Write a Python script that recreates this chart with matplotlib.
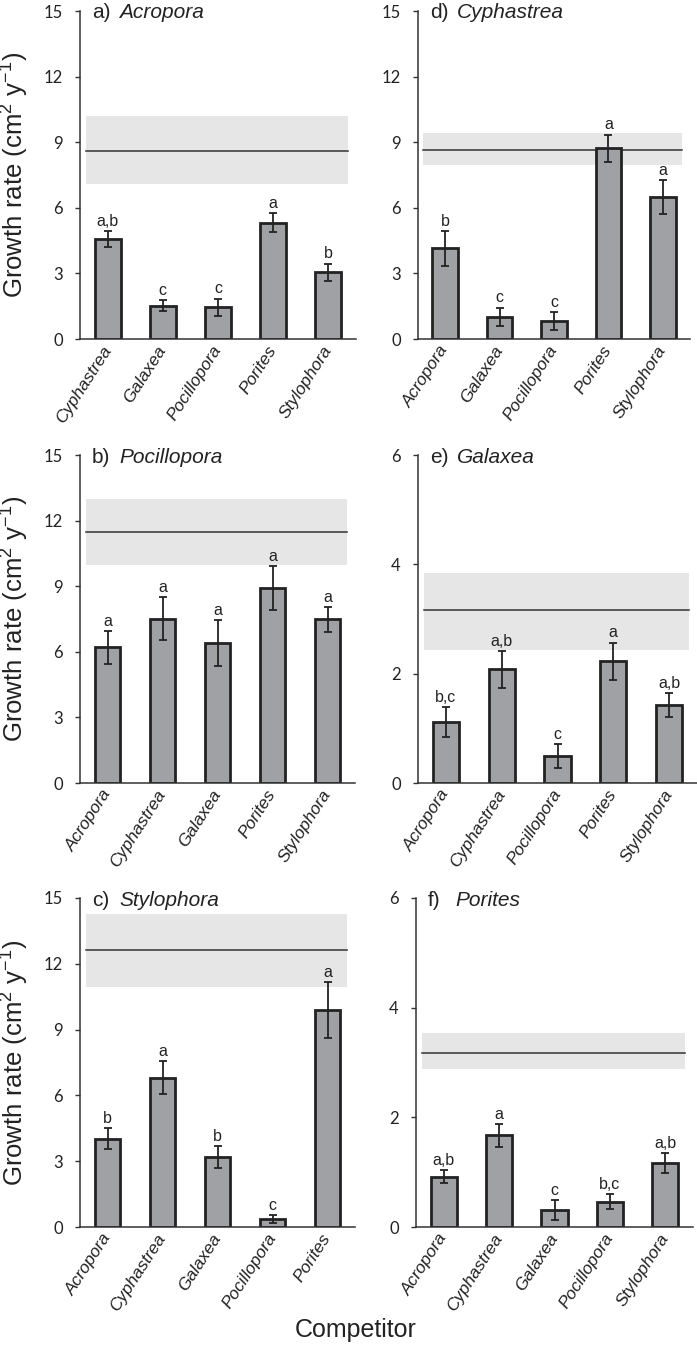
import matplotlib
matplotlib.use("Agg")
import matplotlib.pyplot as plt
import matplotlib.transforms as mtransforms

plt.rcParams['font.family'] = ['Liberation Sans', 'DejaVu Sans']
plt.rcParams['mathtext.fontset'] = 'custom'
plt.rcParams['mathtext.rm'] = 'Liberation Sans'
plt.rcParams['mathtext.default'] = 'regular'

# a) Acropora
a_cats = ['Cyphastrea', 'Galaxea', 'Pocillopora', 'Porites', 'Stylophora']
a_vals = [4.57, 1.52, 1.46, 5.32, 3.05]
a_err = [0.38, 0.25, 0.39, 0.43, 0.40]
a_lett = ['a,b', 'c', 'c', 'a', 'b']
a_ctrl = [8.6, 7.07, 10.2]   # mean, low, high

# b) Pocillopora
b_cats = ['Acropora', 'Cyphastrea', 'Galaxea', 'Porites', 'Stylophora']
b_vals = [6.20, 7.51, 6.40, 8.92, 7.48]
b_err = [0.75, 0.98, 1.05, 1.00, 0.58]
b_lett = ['a', 'a', 'a', 'a', 'a']
b_ctrl = [11.46, 9.97, 13.0]

# c) Stylophora
c_cats = ['Acropora', 'Cyphastrea', 'Galaxea', 'Pocillopora', 'Porites']
c_vals = [4.03, 6.81, 3.19, 0.37, 9.89]
c_err = [0.49, 0.74, 0.49, 0.18, 1.27]
c_lett = ['b', 'a', 'b', 'c', 'a']
c_ctrl = [12.65, 10.93, 14.28]

# d) Cyphastrea
d_cats = ['Acropora', 'Galaxea', 'Pocillopora', 'Porites', 'Stylophora']
d_vals = [4.15, 1.02, 0.82, 8.72, 6.51]
d_err = [0.80, 0.42, 0.41, 0.63, 0.78]
d_lett = ['b', 'c', 'c', 'a', 'a']
d_ctrl = [8.64, 7.96, 9.44]

# e) Galaxea
e_cats = ['Acropora', 'Cyphastrea', 'Pocillopora', 'Porites', 'Stylophora']
e_vals = [1.12, 2.08, 0.49, 2.23, 1.42]
e_err = [0.27, 0.34, 0.22, 0.34, 0.22]
e_lett = ['b,c', 'a,b', 'c', 'a', 'a,b']
e_ctrl = [3.17, 2.44, 3.85]

# f) Porites
f_cats = ['Acropora', 'Cyphastrea', 'Galaxea', 'Pocillopora', 'Stylophora']
f_vals = [0.92, 1.67, 0.31, 0.46, 1.17]
f_err = [0.12, 0.21, 0.18, 0.14, 0.18]
f_lett = ['a,b', 'a', 'c', 'b,c', 'a,b']
f_ctrl = [3.18, 2.89, 3.54]

W, H = 697, 1348
fig = plt.figure(figsize=(W / 100, H / 100), dpi=100)

# (label, name, cats, vals, err, letters, ctrl, ymax, yticks, pixel box l,r,top,bottom)
panels = [
    ('a)', 'Acropora', a_cats, a_vals, a_err, a_lett, a_ctrl, 15, [0, 3, 6, 9, 12, 15], (80, 356, 11, 339)),
    ('b)', 'Pocillopora', b_cats, b_vals, b_err, b_lett, b_ctrl, 15, [0, 3, 6, 9, 12, 15], (80, 355, 455, 783)),
    ('c)', 'Stylophora', c_cats, c_vals, c_err, c_lett, c_ctrl, 15, [0, 3, 6, 9, 12, 15], (80, 355, 898, 1227)),
    ('d)', 'Cyphastrea', d_cats, d_vals, d_err, d_lett, d_ctrl, 15, [0, 3, 6, 9, 12, 15], (418, 690, 11, 339)),
    ('e)', 'Galaxea', e_cats, e_vals, e_err, e_lett, e_ctrl, 6, [0, 2, 4, 6], (418, 697, 455, 783)),
    ('f)', 'Porites', f_cats, f_vals, f_err, f_lett, f_ctrl, 6, [0, 2, 4, 6], (416, 693, 898, 1227)),
]

edge = '#222222'
shift = mtransforms.ScaledTranslation(4 / 100, 0, fig.dpi_scale_trans)
for i, (lab, name, cats, vals, err, lett, ctrl, ymax, yt, box) in enumerate(panels):
    l, r, t, b = box
    ax = fig.add_axes([l / W, 1 - b / H, (r - l) / W, (b - t) / H])
    x = list(range(len(cats)))
    ax.axhspan(ctrl[1], ctrl[2], xmin=0.02, xmax=0.97, color='#e6e6e6', lw=0, zorder=0)
    ax.axhline(ctrl[0], xmin=0.02, xmax=0.97, color='#333333', lw=1.1, zorder=1)
    ax.bar(x, vals, width=0.47, color='#a0a1a5', edgecolor=edge, linewidth=2.0, zorder=2)
    ax.errorbar(x, vals, yerr=err, fmt='none', ecolor=edge, elinewidth=1.3,
                capsize=3.2, capthick=1.3, zorder=3)
    for xi, v, e, s in zip(x, vals, err, lett):
        ax.annotate(s, (xi, v + e), xytext=(0, 1.5), textcoords='offset points',
                    ha='center', va='bottom', fontsize=11.5, color='#222222')
    ax.set_xlim(-0.5, len(cats) - 0.5)
    ax.set_ylim(0, ymax)
    ax.set_yticks(yt)
    ax.set_yticklabels([str(v) for v in yt], family='Lato', fontsize=12, color='#222222')
    ax.set_xticks(x)
    ax.set_xticklabels(cats, rotation=57, ha='right', va='center', rotation_mode='anchor',
                       style='italic', fontsize=12.5, color='#222222')
    for tl in ax.get_xticklabels():
        tl.set_transform(tl.get_transform() + shift)
    ax.tick_params(axis='x', length=0, pad=6)
    ax.tick_params(axis='y', direction='out', length=3.5, width=1, pad=9, color='#333333')
    for sp in ['top', 'right']:
        ax.spines[sp].set_visible(False)
    for sp in ['left', 'bottom']:
        ax.spines[sp].set_color('#333333')
        ax.spines[sp].set_linewidth(1.1)
    ax.annotate(lab, (0, 1), xycoords='axes fraction', xytext=(12, -2), textcoords='offset pixels',
                ha='left', va='center', fontsize=15, color='#222222')
    ax.annotate(name, (0, 1), xycoords='axes fraction', xytext=(39, -2), textcoords='offset pixels',
                ha='left', va='center', fontsize=15, style='italic', color='#222222')
    if i < 3:
        ax.set_ylabel('Growth rate (cm$^2$ y$^{-1}$)', fontsize=18.5, color='#222222', va='center')
        ax.yaxis.set_label_coords(-0.235, 0.5)

fig.text(356 / W, 1 - 1330 / H, 'Competitor', ha='center', va='center', fontsize=18, color='#222222')

fig.savefig('out.png', dpi=100)
